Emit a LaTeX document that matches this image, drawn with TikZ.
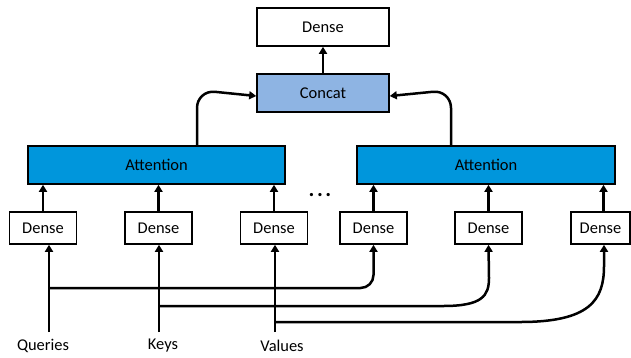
\documentclass[tikz,border=0pt]{standalone}
\usepackage{fontspec}
\setmainfont{Carlito}
\usetikzlibrary{arrows.meta}
\definecolor{attblue}{RGB}{0,150,220}
\definecolor{catblue}{RGB}{142,180,227}
\begin{document}
\begin{tikzpicture}[x=1bp,y=-1bp,
  box/.style={draw=black,line width=1.6bp,minimum height=32bp,inner sep=0pt,font=\fontsize{16.5}{19}\selectfont},
  bigbox/.style={box,minimum height=38bp},
  arr/.style={line width=2.5bp,-{Triangle[width=8bp,length=7bp]}},
  lbl/.style={font=\fontsize{16.5}{19}\selectfont}]
\useasboundingbox (0,0) rectangle (631,357);
% top
\node[bigbox,fill=white,minimum width=132bp] (dtop) at (323,27) {Dense};
\node[bigbox,fill=catblue,minimum width=132bp] (concat) at (323,93) {Concat};
\node[bigbox,fill=attblue,minimum width=257bp] (att1) at (156.5,165) {Attention};
\node[bigbox,fill=attblue,minimum width=258bp] (att2) at (486,165) {Attention};
% dense row
\node[box,minimum width=67bp] (d1) at (43,228) {Dense};
\node[box,minimum width=67bp] (d2) at (158.5,228) {Dense};
\node[box,minimum width=67bp] (d3) at (274,228) {Dense};
\node[box,minimum width=67bp] (d4) at (373.5,228) {Dense};
\node[box,minimum width=67bp] (d5) at (488.5,228) {Dense};
\node[box,minimum width=59bp] (d6) at (600.5,228) {Dense};
% ellipsis
\node[font=\fontsize{22}{24}\selectfont\bfseries] (dots) at (320,195) {.\hspace{2.5bp}.\hspace{2.5bp}.};
% labels
\node[lbl] (q) at (43,346) {Queries};
\node[lbl] (k) at (163,346) {Keys};
\node[lbl] (v) at (282,346) {Values};
\coordinate (qs) at (49,332);
\coordinate (ks) at (159,332);
\coordinate (vs) at (275,332);
% arrows top
\draw[arr] (concat.north) -- (dtop.south);
\draw[arr,rounded corners=18bp] (197,146) -- (197,90) -- ([yshift=-3bp]concat.west);
\draw[arr,rounded corners=18bp] (451,146) -- (451,90) -- ([yshift=-3bp]concat.east);
% dense to attention
\draw[arr] (d1.north) -- (d1.north |- att1.south);
\draw[arr] (d2.north) -- (d2.north |- att1.south);
\draw[arr] (d3.north) -- (d3.north |- att1.south);
\draw[arr] (d4.north) -- (d4.north |- att2.south);
\draw[arr] (d5.north) -- (d5.north |- att2.south);
\draw[arr] ([xshift=3bp]d6.north) -- ([xshift=3bp]d6.north |- att2.south);
% inputs
\draw[arr] (qs) -- (qs |- d1.south);
\draw[arr] (ks) -- (ks |- d2.south);
\draw[arr] (vs) -- (vs |- d3.south);
\draw[arr,rounded corners=13bp] (49,288) -- (373.5,288) -- (d4.south);
\draw[arr] (159,306) -- (443,306) .. controls (482,306) and (489,296) .. (489,278) -- (d5.south);
\draw[arr] (275,322) -- (520,322) .. controls (590,322) and (604,300) .. (604,266) -- ([xshift=3.5bp]d6.south);
\end{tikzpicture}
\end{document}
